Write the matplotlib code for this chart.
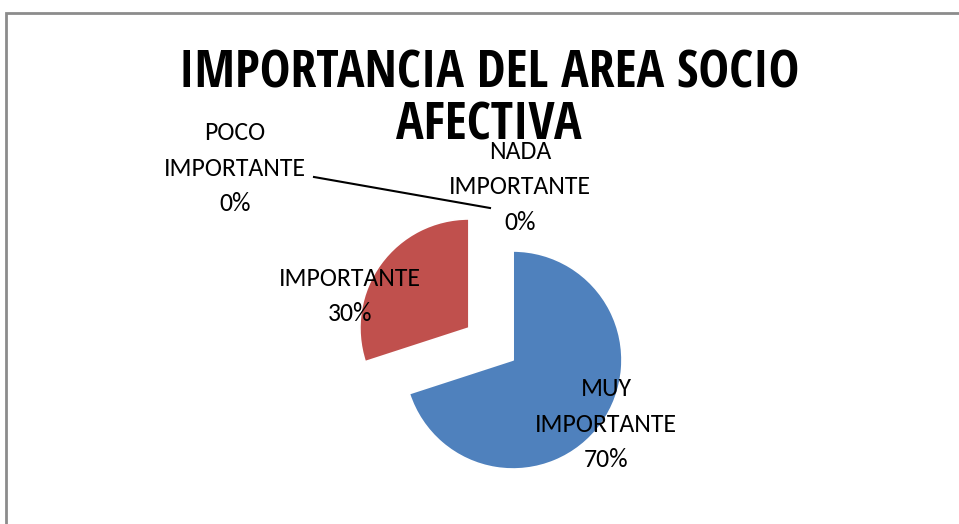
import matplotlib
matplotlib.use('Agg')
import matplotlib.pyplot as plt
from matplotlib import font_manager as fm

installed = {f.name for f in fm.fontManager.ttflist}

# Calibri look-alike for the labels if there is one, otherwise Lato;
# the title in the original is a compressed bold, so use a condensed face
if 'Carlito' in installed:
    label_font, label_size, label_ls = 'Carlito', 18.5, 1.67
else:
    label_font, label_size, label_ls = 'Lato', 16, 1.78
title_font = 'Open Sans Condensed'

plt.rcParams['font.family'] = [label_font, 'DejaVu Sans']

# data
categories = ['MUY IMPORTANTE', 'IMPORTANTE', 'POCO IMPORTANTE', 'NADA IMPORTANTE']
values = [70, 30, 0, 0]
colors = ['#4F81BD', '#C0504D', '#9BBB59', '#8064A2']
explode = [0, 0.5, 0, 0]   # fraction of the radius
title_lines = ['IMPORTANCIA DEL AREA SOCIO', 'AFECTIVA']

W, H = 959, 524
dpi = 100
radius = 109

fig = plt.figure(figsize=(W / dpi, H / dpi), dpi=dpi)
ax = fig.add_axes([0, 0, 1, 1])

# pie drawn in pixel-like coordinates (y up)
ax.pie(values, colors=colors, explode=[e * radius for e in explode],
       startangle=90, counterclock=False, center=(513, H - 360),
       radius=radius, wedgeprops=dict(edgecolor='white', linewidth=1.2))
ax.set_xlim(0, W)
ax.set_ylim(0, H)
ax.set_aspect('equal')
ax.axis('off')

# chart border (Excel chart area)
ax.plot([5.5, 5.5, W + 10], [-10, H - 13, H - 13], color='#8c8c8c',
        lw=2, clip_on=False, solid_joinstyle='miter')

titles = []
for line, yb in zip(title_lines, [88, 140]):
    titles.append(ax.text(489, H - yb, line, ha='center', va='baseline',
                          fontsize=41, fontweight='bold',
                          family=[title_font, 'Lato'], color='black'))

# scale the title so its first line is as wide as in the original (~622 px)
renderer = fig.canvas.get_renderer()
w = titles[0].get_window_extent(renderer=renderer).width
size = min(48, max(30, 41 * 622 / w))
for t in titles:
    t.set_fontsize(size)

# data labels (best-fit positions as in the original)
label_pos = [(606, H - 424), (350, H - 296), (235, H - 168), (520, H - 187)]
total = sum(values)
for cat, v, (x, y) in zip(categories, values, label_pos):
    words = cat.split(' ')
    txt = '\n'.join(words) + f'\n{round(100 * v / total)}%'
    ax.text(x, y, txt, ha='center', va='center', fontsize=label_size,
            linespacing=label_ls, color='black')

# leader line for the POCO IMPORTANTE label
ax.plot([314, 490], [H - 177, H - 208], color='black', lw=1.5)

fig.savefig('out.png', dpi=dpi)
